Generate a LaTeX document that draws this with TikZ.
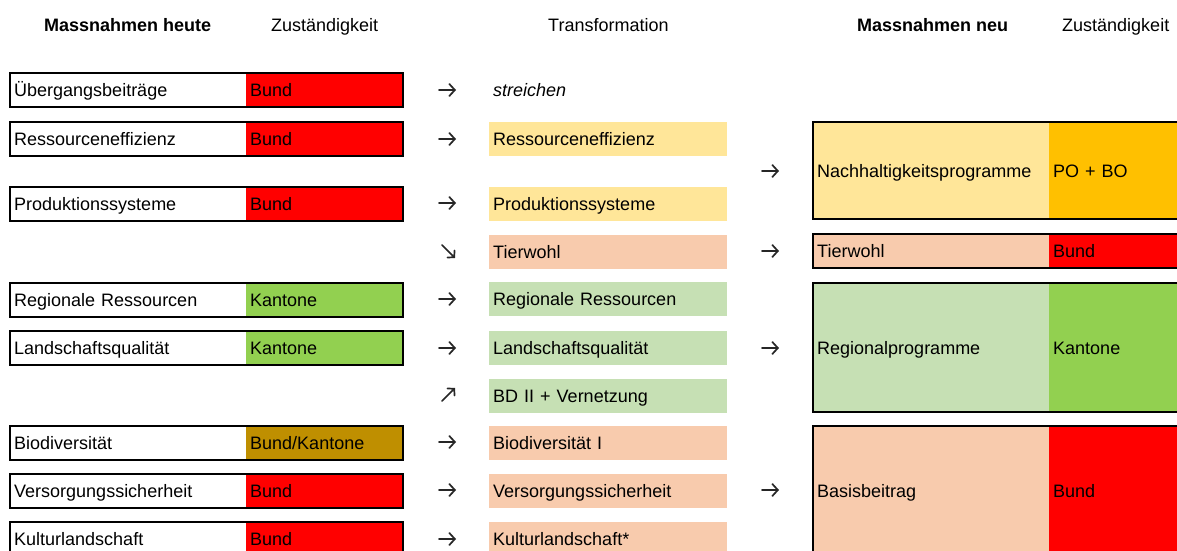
\documentclass[tikz,border=0pt]{standalone}
\usepackage{fontspec}
\setmainfont{Liberation Sans}
\usetikzlibrary{arrows.meta}
\definecolor{cRed}{HTML}{FF0000}
\definecolor{cGreen}{HTML}{92D050}
\definecolor{cGold}{HTML}{BF8F00}
\definecolor{cOrange}{HTML}{FFC000}
\definecolor{cYellowL}{HTML}{FFE699}
\definecolor{cSalmon}{HTML}{F8CBAD}
\definecolor{cGreenL}{HTML}{C6E0B4}
\tikzset{
  basecell/.style={anchor=north west, inner xsep=4bp, inner ysep=0pt, text height=13bp, text depth=0pt, align=left, font=\fontsize{18bp}{21bp}\selectfont},
  namecell/.style={basecell, text width=228bp, minimum height=34bp, fill=white},
  respcell/.style={basecell, text width=149bp, minimum height=34bp},
  transcell/.style={basecell, text width=230bp, minimum height=34bp},
  newcell/.style={basecell, text width=228bp},
  newresp/.style={basecell, text width=133bp},
  frame/.style={draw=black, line width=1.9bp},
  head/.style={anchor=base west, inner sep=0pt, font=\fontsize{18bp}{21bp}\selectfont},
  arrowline/.style={draw=black!85, line width=1.7bp, line cap=round, -{Straight Barb[length=5.5bp,width=12bp,line cap=round]}},
  diagline/.style={draw=black!85, line width=1.7bp, line cap=round, -{Straight Barb[length=4.5bp,width=10bp,line cap=round]}}
}
\begin{document}
\begin{tikzpicture}[x=1bp,y=-1bp]
\useasboundingbox (0,0) rectangle (1177,551);
\clip (0,0) rectangle (1177,551);
\fill[white] (0,0) rectangle (1177,551);
% headers
\node[head, font=\bfseries\fontsize{18bp}{21bp}\selectfont] (hd1) at (44,31.5) {Massnahmen heute};
\node[head] (hd2) at (271,31.5) {Zuständigkeit};
\node[head] (hd3) at (548,31.5) {Transformation};
\node[head, font=\bfseries\fontsize{18bp}{21bp}\selectfont] (hd4) at (857,31.5) {Massnahmen neu};
\node[head] (hd5) at (1062,31.5) {Zuständigkeit};
% left boxes
\node[namecell] (l1) at (10,73) {Übergangsbeiträge};
\node[respcell, fill=cRed] (l1r) at (246,73) {Bund};
\draw[frame] (l1.north west) rectangle (l1r.south east);
\node[namecell] (l2) at (10,122) {Ressourceneffizienz};
\node[respcell, fill=cRed] (l2r) at (246,122) {Bund};
\draw[frame] (l2.north west) rectangle (l2r.south east);
\node[namecell] (l3) at (10,187) {Produktionssysteme};
\node[respcell, fill=cRed] (l3r) at (246,187) {Bund};
\draw[frame] (l3.north west) rectangle (l3r.south east);
\node[namecell] (l4) at (10,283) {Regionale Ressourcen};
\node[respcell, fill=cGreen] (l4r) at (246,283) {Kantone};
\draw[frame] (l4.north west) rectangle (l4r.south east);
\node[namecell] (l5) at (10,331) {Landschaftsqualität};
\node[respcell, fill=cGreen] (l5r) at (246,331) {Kantone};
\draw[frame] (l5.north west) rectangle (l5r.south east);
\node[namecell] (l6) at (10,426) {Biodiversität};
\node[respcell, fill=cGold] (l6r) at (246,426) {Bund/Kantone};
\draw[frame] (l6.north west) rectangle (l6r.south east);
\node[namecell] (l7) at (10,474) {Versorgungssicherheit};
\node[respcell, fill=cRed] (l7r) at (246,474) {Bund};
\draw[frame] (l7.north west) rectangle (l7r.south east);
\node[namecell] (l8) at (10,522) {Kulturlandschaft};
\node[respcell, fill=cRed] (l8r) at (246,522) {Bund};
\draw[frame] (l8.north west) rectangle (l8r.south east);
% arrows middle
\foreach \y [count=\i] in {90,139,203,299,348,442,490,539} {
  \coordinate (a\i s) at (439,\y);
  \coordinate (a\i e) at (456,\y);
  \draw[arrowline] (a\i s) -- (a\i e);
}
\coordinate (dn s) at (442,245);
\coordinate (dn e) at (455,258);
\draw[diagline] (dn s) -- (dn e);
\coordinate (up s) at (442,401);
\coordinate (up e) at (455,388);
\draw[diagline] (up s) -- (up e);
% transformation
\node[transcell, font=\itshape\fontsize{18bp}{21bp}\selectfont] (t1) at (489,73) {streichen};
\node[transcell, fill=cYellowL] (t2) at (489,122) {Ressourceneffizienz};
\node[transcell, fill=cYellowL] (t3) at (489,187) {Produktionssysteme};
\node[transcell, fill=cSalmon] (t4) at (489,235) {Tierwohl};
\node[transcell, fill=cGreenL] (t5) at (489,282) {Regionale Ressourcen};
\node[transcell, fill=cGreenL] (t6) at (489,331) {Landschaftsqualität};
\node[transcell, fill=cGreenL] (t7) at (489,379) {BD II + Vernetzung};
\node[transcell, fill=cSalmon] (t8) at (489,426) {Biodiversität I};
\node[transcell, fill=cSalmon] (t9) at (489,474) {Versorgungssicherheit};
\node[transcell, fill=cSalmon] (t10) at (489,522) {Kulturlandschaft*};
% arrows right
\foreach \y [count=\i] in {171,251,348,490} {
  \coordinate (b\i s) at (762,\y);
  \coordinate (b\i e) at (779,\y);
  \draw[arrowline] (b\i s) -- (b\i e);
}
% new boxes
\node[newcell, fill=cYellowL, minimum height=97bp] (n1) at (813,122) {Nachhaltigkeitsprogramme};
\node[newresp, fill=cOrange, minimum height=97bp] (n1r) at (1049,122) {PO + BO};
\draw[frame] (n1.north west) rectangle (n1r.south east);
\node[newcell, fill=cSalmon, minimum height=34bp] (n2) at (813,234) {Tierwohl};
\node[newresp, fill=cRed, minimum height=34bp] (n2r) at (1049,234) {Bund};
\draw[frame] (n2.north west) rectangle (n2r.south east);
\node[newcell, fill=cGreenL, minimum height=129bp] (n3) at (813,283) {Regionalprogramme};
\node[newresp, fill=cGreen, minimum height=129bp] (n3r) at (1049,283) {Kantone};
\draw[frame] (n3.north west) rectangle (n3r.south east);
\node[newcell, fill=cSalmon, minimum height=130bp] (n4) at (813,426) {Basisbeitrag};
\node[newresp, fill=cRed, minimum height=130bp] (n4r) at (1049,426) {Bund};
\draw[frame] (n4.north west) rectangle (n4r.south east);
\end{tikzpicture}
\end{document}
